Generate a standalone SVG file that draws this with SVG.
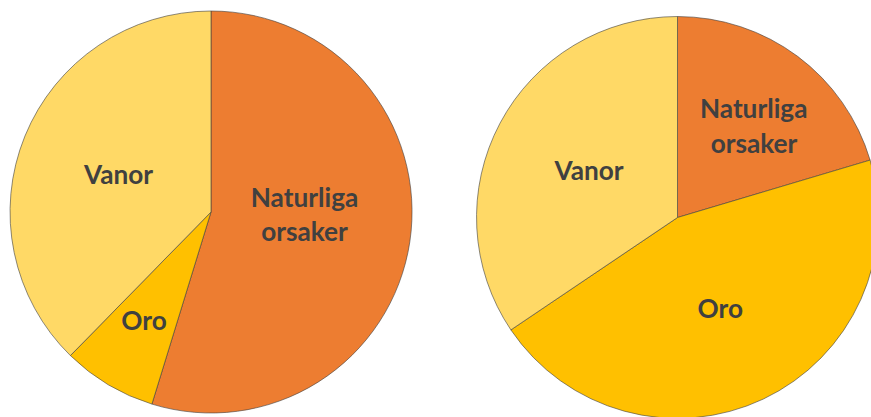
<svg xmlns="http://www.w3.org/2000/svg" width="871" height="417" viewBox="0 0 871 417">
<style>
.s{stroke:#404040;stroke-width:0.6;stroke-linejoin:round}
.nat{fill:#ED7D31}
.oro{fill:#FFC000}
.van{fill:#FFD966}
.t{font-family:Lato,"Open Sans","Liberation Sans",sans-serif;font-weight:bold;font-size:26.2px;fill:#404040;text-anchor:middle}
</style>
<rect width="871" height="417" fill="#FFFFFF"/>
<g id="pie-left">
<path class="s nat" d="M211,212 L211,11 A201,201 0 1 1 151.9,404.1 Z"/>
<path class="s oro" d="M211,212 L151.9,404.1 A201,201 0 0 1 70.4,355.6 Z"/>
<path class="s van" d="M211,212 L70.4,355.6 A201,201 0 0 1 211,11 Z"/>
<text class="t" x="304.5" y="206.5">Naturliga</text>
<text class="t" x="304.5" y="240.7">orsaker</text>
<text class="t" x="118.5" y="184.3">Vanor</text>
<text class="t" x="144" y="330">Oro</text>
</g>
<g id="pie-right">
<path class="s nat" d="M677.5,217.5 L677.5,16.5 A201,201 0 0 1 870.1,160.1 Z"/>
<path class="s oro" d="M677.5,217.5 L870.1,160.1 A201,201 0 0 1 510.9,329.9 Z"/>
<path class="s van" d="M677.5,217.5 L510.9,329.9 A201,201 0 0 1 677.5,16.5 Z"/>
<text class="t" x="753.7" y="118.3">Naturliga</text>
<text class="t" x="754" y="152.7">orsaker</text>
<text class="t" x="589" y="180">Vanor</text>
<text class="t" x="720.3" y="318.3">Oro</text>
</g>
<g id="connectors"></g>
</svg>
